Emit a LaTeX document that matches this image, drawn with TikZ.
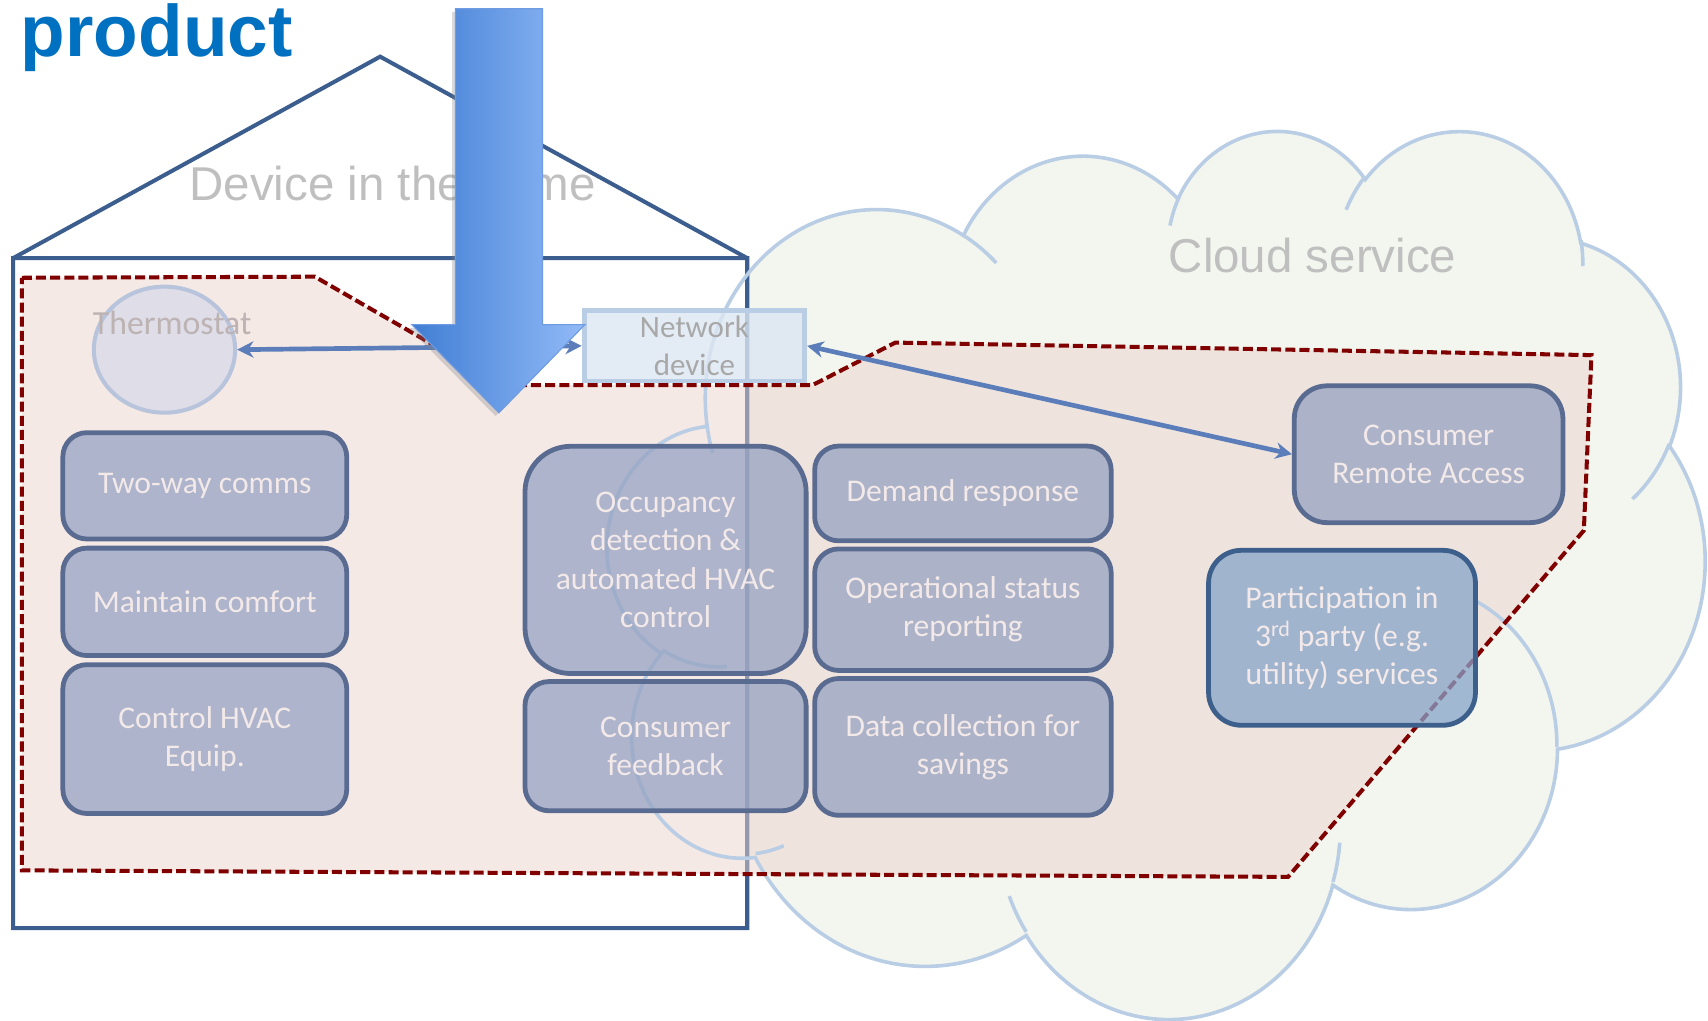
\documentclass[tikz,border=0pt]{standalone}
\usepackage{fontspec}
\setmainfont{Carlito}
\newfontfamily\arialfont{Liberation Sans}
\usepackage{tikz}
\usetikzlibrary{shapes, arrows.meta, positioning, shadows}

\definecolor{houseblue}{RGB}{60,94,142}
\definecolor{cloudedge}{RGB}{185,205,229}
\definecolor{cloudfill}{RGB}{243,246,238}
\definecolor{zonered}{RGB}{128,0,0}
\definecolor{zonefill}{RGB}{236,212,206}
\definecolor{taskfill}{RGB}{150,163,194}
\definecolor{taskedge}{RGB}{90,107,145}
\definecolor{tasktext}{RGB}{243,233,233}
\definecolor{partfill}{RGB}{134,164,202}
\definecolor{partedge}{RGB}{60,95,140}
\definecolor{linkblue}{RGB}{91,126,186}
\definecolor{titleblue}{RGB}{0,112,192}
\definecolor{faintgray}{RGB}{191,191,191}
\definecolor{thermofill}{RGB}{207,214,234}
\definecolor{thermoedge}{RGB}{184,195,220}
\definecolor{thermotext}{RGB}{189,179,179}
\definecolor{netfill}{RGB}{220,230,242}
\definecolor{netgray}{RGB}{168,168,168}
\definecolor{arrowdark}{RGB}{64,126,212}
\definecolor{arrowlight}{RGB}{146,186,247}
\definecolor{arrowedge}{RGB}{110,155,225}

\newcommand\puffarc[4]{%
  \pgfmathparse{atan2((#1)*sin(#3),(#2)*cos(#3))}\xdef\puffs{\pgfmathresult}%
  \pgfmathparse{atan2((#1)*sin((#3)+(#4)),(#2)*cos((#3)+(#4)))}\xdef\puffe{\pgfmathresult}%
  \pgfmathparse{mod((\puffe)-(\puffs)+720,360)}\xdef\puffd{\pgfmathresult}%
}

\begin{document}
\begin{tikzpicture}[x=1pt, y=-1pt]
    \tikzstyle{cloudframe}=[shift={(558,118)}, x=0.2331pt, y=-0.18866pt]
    \tikzstyle{cloudline}=[draw=cloudedge, line width=3.3pt]
    \tikzstyle{house}=[draw=houseblue, line width=3.7pt]
    \tikzstyle{zone}=[draw=zonered, line width=3.7pt, dash pattern=on 9.2pt off 3.8pt]
    \tikzstyle{task}=[draw=taskedge, line width=4.4pt, fill=taskfill, fill opacity=0.75, text opacity=1, text=tasktext, rounded corners=22pt, align=center, inner sep=0pt, font=\fontsize{29}{35}\selectfont]
    \tikzstyle{link}=[draw=linkblue, line width=4.3pt, >={Stealth[length=15pt,width=15pt]}, <->]
    \tikzstyle{heading}=[text=faintgray, inner sep=0pt, anchor=base, font=\arialfont\fontsize{43.6}{52}\selectfont]
    \useasboundingbox (0,0) rectangle (1568,937);

    \begin{scope}[cloudframe]
      \fill[cloudfill, save path=\cloudshape] (390,1437)
        \pgfextra{\puffarc{675.3}{919.0}{-190.48748}{123.78053}} arc[start angle=\puffs, delta angle=\puffd, x radius=675.3, y radius=919.0]
        \pgfextra{\puffarc{533.3}{726.7}{-144.10238}{89.94523}} arc[start angle=\puffs, delta angle=\puffd, x radius=533.3, y radius=726.7]
        \pgfextra{\puffarc{436.5}{594.5}{-145.80792}{99.72302}} arc[start angle=\puffs, delta angle=\puffd, x radius=436.5, y radius=594.5]
        \pgfextra{\puffarc{485.7}{659.5}{-130.98607}{117.24173}} arc[start angle=\puffs, delta angle=\puffd, x radius=485.7, y radius=659.5]
        \pgfextra{\puffarc{533.3}{727.3}{-78.70888}{109.02692}} arc[start angle=\puffs, delta angle=\puffd, x radius=533.3, y radius=727.3]
        \pgfextra{\puffarc{677.5}{922.0}{-46.26725}{130.269}} arc[start angle=\puffs, delta angle=\puffd, x radius=677.5, y radius=922.0]
        \pgfextra{\puffarc{578.5}{786.7}{0.62502}{114.03333}} arc[start angle=\puffs, delta angle=\puffd, x radius=578.5, y radius=786.7]
        \pgfextra{\puffarc{675.2}{921.5}{22.4516}{115.17255}} arc[start angle=\puffs, delta angle=\puffd, x radius=675.2, y radius=921.5]
        \pgfextra{\puffarc{772.0}{1054.3}{66.24263}{75.71102}} arc[start angle=\puffs, delta angle=\puffd, x radius=772.0, y radius=1054.3]
        \pgfextra{\puffarc{436.0}{591.8}{-274.94208}{146.73557}} arc[start angle=\puffs, delta angle=\puffd, x radius=436.0, y radius=591.8]
        \pgfextra{\puffarc{434.5}{594.5}{-246.8285}{152.51885}} arc[start angle=\puffs, delta angle=\puffd, x radius=434.5, y radius=594.5]
        -- cycle;
    \end{scope}
    \fill[white] (12,237) rectangle (686,852);
    \draw[house] (12,237) -- (349,52) -- (686,237) (12,237) rectangle (686,852);

    \node[heading] (homelabel) at (360.5,184) {Device in the home};
    \node[heading] (cloudlabel) at (1205,250.5) {Cloud service};

    \fill[zonefill, fill opacity=0.5, save path=\zoneshape] (20,255) -- (289,254) -- (462,353.5) -- (746,353.5) -- (822,314.5) -- (1461,326) -- (1454,487) -- (1182.5,805) -- (20,799) -- cycle;

    \path[cloudline, use path=\cloudshape];
    \begin{scope}[cloudframe]
      \draw[cloudline]
        (469.3,2617.7) \pgfextra{\puffarc{434.5}{594.5}{86.742}{26.4295}} arc[start angle=\puffs, delta angle=\puffd, x radius=434.5, y radius=594.5]
        (692.8,3489.9) \pgfextra{\puffarc{436.0}{591.8}{73.61047}{11.44747}} arc[start angle=\puffs, delta angle=\puffd, x radius=436.0, y radius=591.8]
        (1647.8,3909.0) \pgfextra{\puffarc{675.2}{921.5}{137.62415}{14.0811}} arc[start angle=\puffs, delta angle=\puffd, x radius=675.2, y radius=921.5]
        (2882.7,3475.1) \pgfextra{\puffarc{675.2}{921.5}{6.45327}{15.99835}} arc[start angle=\puffs, delta angle=\puffd, x radius=675.2, y radius=921.5]
        (3412.9,2295.4) \pgfextra{\puffarc{578.5}{786.7}{-70.29235}{70.91737}} arc[start angle=\puffs, delta angle=\puffd, x radius=578.5, y radius=786.7]
        (4179.8,1535.4) \pgfextra{\puffarc{533.3}{727.3}{30.31803}{27.7515}} arc[start angle=\puffs, delta angle=\puffd, x radius=533.3, y radius=727.3]
        (3832.4,542.6) \pgfextra{\puffarc{485.7}{659.5}{-13.74433}{14.8589}} arc[start angle=\puffs, delta angle=\puffd, x radius=485.7, y radius=659.5]
        (2907.8,395.2) \pgfextra{\puffarc{485.7}{659.5}{-149.18145}{18.19537}} arc[start angle=\puffs, delta angle=\puffd, x radius=485.7, y radius=659.5]
        (2214.1,472.0) \pgfextra{\puffarc{436.5}{594.5}{-163.49427}{17.844}} arc[start angle=\puffs, delta angle=\puffd, x radius=436.5, y radius=594.5]
        (1400.0,519.2) \pgfextra{\puffarc{675.3}{919.0}{-66.70695}{12.31935}} arc[start angle=\puffs, delta angle=\puffd, x radius=675.3, y radius=919.0]
        (412.7,1578.9) \pgfextra{\puffarc{675.3}{919.0}{157.65435}{11.85817}} arc[start angle=\puffs, delta angle=\puffd, x radius=675.3, y radius=919.0];
    \end{scope}
    \path[zone, use path=\zoneshape];

    \node[ellipse, draw=thermoedge, line width=3.7pt, fill=thermofill, fill opacity=0.6, minimum width=129.7pt, minimum height=115.7pt] (thermo) at (151,321) {};
    \node[text=thermotext, inner sep=0pt, anchor=base, font=\fontsize{31}{37}\selectfont] (thermolabel) at (158,307.5) {Thermostat};
    \node[draw=cloudedge, line width=4.5pt, fill=netfill, fill opacity=0.8, text opacity=1, text=netgray, minimum width=202.5pt, minimum height=64.5pt, align=center, inner sep=0pt, font=\fontsize{28.5}{34.5}\selectfont] (netdev) at (637.5,317.5) {Network\\device};

    \node[task, minimum width=260.6pt, minimum height=97.6pt] (comms) at (188,446) {Two-way comms};
    \node[task, minimum width=260.6pt, minimum height=98.6pt, below=4pt of comms] (comfort) {Maintain comfort};
    \node[task, minimum width=260.6pt, minimum height=136.6pt, below=4pt of comfort] (hvac) {Control HVAC\\Equip.};
    \node[task, rounded corners=42pt, minimum width=258.1pt, minimum height=208.6pt] (occupancy) at (611,514) {Occupancy\\detection \&\\automated HVAC\\control};
    \node[task, minimum width=258.1pt, minimum height=118.6pt, below=3pt of occupancy] (feedback) {Consumer\\feedback};
    \node[task, minimum width=272.2pt, minimum height=87pt] (demand) at (884,453) {Demand response};
    \node[task, minimum width=272.2pt, minimum height=111.6pt, below=3pt of demand] (status) {Operational status\\reporting};
    \node[task, minimum width=272.2pt, minimum height=125.6pt, below=3pt of status] (savings) {Data collection for\\savings};
    \node[task, rounded corners=30pt, minimum width=246.6pt, minimum height=125.6pt] (remote) at (1311.5,417) {Consumer\\Remote Access};
    \node[task, rounded corners=30pt, fill=partfill, draw=partedge, minimum width=245pt, minimum height=160.6pt] (utility) at (1232,585.5) {Participation in\\3\textsuperscript{rd} party (e.g.\\utility) services};

    \draw[link] (thermo.east) -- (netdev.west);
    \draw[link] (netdev.east) -- (remote.west);

    \shade[left color=arrowdark, right color=arrowlight, draw=arrowedge, line width=1pt, drop shadow={shadow xshift=-3pt, shadow yshift=-3pt, opacity=0.3}] (418,8) -- (498,8) -- (498,298) -- (537,298) -- (458,379) -- (378,298) -- (418,298) -- cycle;

    \node[anchor=base west, inner sep=0pt, text=titleblue, font=\arialfont\bfseries\fontsize{67}{80}\selectfont] (title) at (19,52) {product};
\end{tikzpicture}
\end{document}
